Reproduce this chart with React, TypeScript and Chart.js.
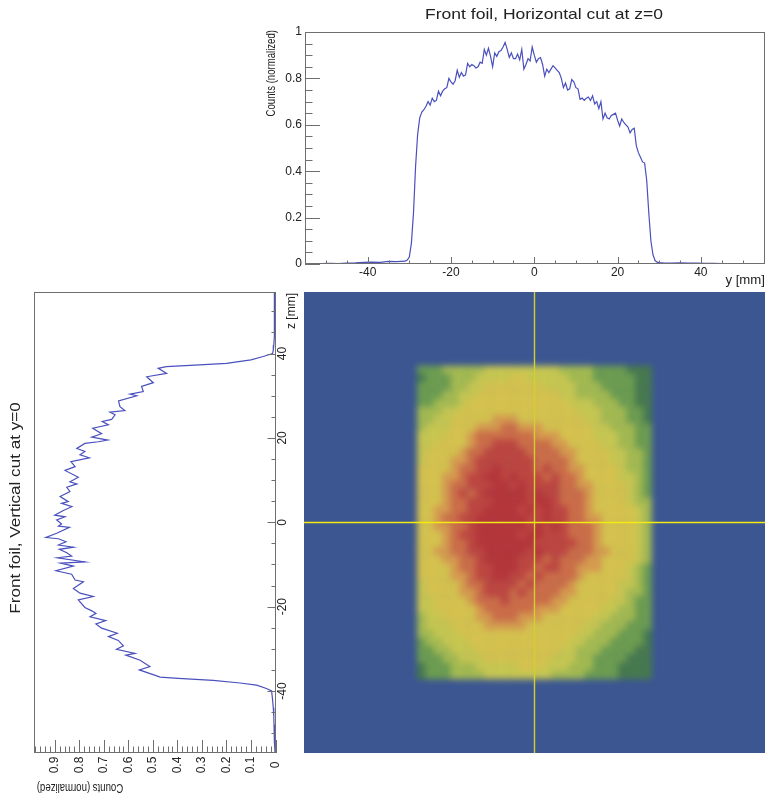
import React, { useEffect, useRef } from "react";
import { Chart, registerables } from "chart.js";

Chart.register(...registerables);

const FONT = "'Liberation Sans', Arial, sans-serif";
const LINE = "#4a50bd";
const AXIS = "#6f6f6f";

// ---- horizontal cut at z=0
const horizLeftTailY = [-55, -53, -51, -49, -47, -45, -43, -41, -39, -37, -35, -33];
const horizLeftTailV = [0.001, 0.002, 0.002, 0.003, 0.002, 0.004, 0.005, 0.007, 0.008, 0.007, 0.011, 0.010];
const horizCoreY = [
  -31, -30.5, -30, -29.5, -29, -28.5, -28, -27.5, -27, -26.5, -26, -25.5, -25, -24.5, -24, -23.5, -23, -22.5, -22, -21.5,
  -21, -20.5, -20, -19.5, -19, -18.5, -18, -17.5, -17, -16.5, -16, -15.5, -15, -14.5, -14, -13.5, -13, -12.5, -12, -11.5,
  -11, -10.5, -10, -9.5, -9, -8.5, -8, -7.5, -7, -6.5, -6, -5.5, -5, -4.5, -4, -3.5, -3, -2.5, -2, -1.5,
  -1, -0.5, 0, 0.5, 1, 1.5, 2, 2.5, 3, 3.5, 4, 4.5, 5, 5.5, 6, 6.5, 7, 7.5, 8, 8.5,
  9, 9.5, 10, 10.5, 11, 11.5, 12, 12.5, 13, 13.5, 14, 14.5, 15, 15.5, 16, 16.5, 17, 17.5, 18, 18.5,
  19, 19.5, 20, 20.5, 21, 21.5, 22, 22.5, 23, 23.5, 24, 24.5, 25, 25.5, 26, 26.5, 27, 27.5, 28, 28.5,
  29, 29.5, 30,
];
const horizCoreV = [
  0.012, 0.017, 0.03, 0.09, 0.22, 0.42, 0.56, 0.63, 0.655, 0.665, 0.68, 0.70, 0.685, 0.715, 0.70, 0.705, 0.745, 0.725, 0.745, 0.755,
  0.76, 0.80, 0.785, 0.775, 0.79, 0.835, 0.805, 0.825, 0.81, 0.815, 0.865, 0.85, 0.86, 0.855, 0.845, 0.85, 0.87, 0.865, 0.925, 0.90,
  0.93, 0.895, 0.85, 0.91, 0.895, 0.915, 0.92, 0.935, 0.955, 0.925, 0.89, 0.91, 0.885, 0.885, 0.905, 0.88, 0.925, 0.84, 0.86, 0.885,
  0.875, 0.935, 0.90, 0.87, 0.885, 0.89, 0.86, 0.81, 0.84, 0.825, 0.84, 0.855, 0.845, 0.835, 0.825, 0.80, 0.76, 0.78, 0.75, 0.755,
  0.795, 0.785, 0.76, 0.755, 0.71, 0.715, 0.705, 0.715, 0.72, 0.705, 0.725, 0.69, 0.70, 0.67, 0.70, 0.625, 0.65, 0.63, 0.625, 0.64,
  0.645, 0.65, 0.62, 0.595, 0.625, 0.61, 0.60, 0.59, 0.565, 0.58, 0.585, 0.51, 0.48, 0.46, 0.44, 0.435, 0.36, 0.22, 0.10, 0.04,
  0.015, 0.008, 0.006,
];
const horizRightTailY = [31, 33, 35, 37, 39, 41, 43, 45, 47, 49, 51, 53, 55];
const horizRightTailV = [0.005, 0.004, 0.005, 0.004, 0.004, 0.003, 0.003, 0.002, 0.002, 0.002, 0.001, 0.002, 0.001];

// ---- vertical cut at y=0
const vertZ = [
  54.5, 52, 50, 48, 46, 44, 42, 40.8, 40, 39.3, 38.5, 37.7, 37.3, 36.9, 36.5, 35.3, 34.5, 33.1, 32.2, 31,
  30.4, 30, 28.8, 27.4, 26.5, 26.1, 25.5, 24.4, 23.9, 23.1, 22.3, 21, 20.2, 19.5, 19.1, 18.7, 17.5, 16.8, 16, 15.3,
  14.4, 13.2, 12.3, 10.7, 9.6, 9.1, 8.3, 7.3, 6.1, 4.9, 4.5, 3.7, 2.8, 1.7, 1.3, 0.55, -0.4, -0.9, -1.2, -2.6,
  -3.6, -3.9, -4.6, -5.4, -5.9, -6.4, -7.2, -8, -8.4, -9.4, -9.7, -10.4, -11.5, -12.3, -13.7, -14.1, -15.7, -16.8, -17.6, -18.4,
  -20.2, -21, -21.6, -22.4, -23.3, -24.1, -25.1, -26.3, -27.1, -28, -29.3, -30.1, -31.1, -31.5, -32.7, -34.2, -35, -36, -36.7, -37,
  -37.5, -38.1, -38.6, -39.4, -40, -42, -44, -46, -48, -50, -52, -54.5,
];
const vertV = [
  0.003, 0.004, 0.003, 0.005, 0.006, 0.005, 0.007, 0.009, 0.012, 0.05, 0.10, 0.20, 0.31, 0.445, 0.478, 0.444, 0.525, 0.498, 0.546, 0.539,
  0.593, 0.566, 0.64, 0.634, 0.614, 0.675, 0.654, 0.668, 0.706, 0.681, 0.745, 0.709, 0.749, 0.684, 0.722, 0.777, 0.81, 0.777, 0.797, 0.759,
  0.834, 0.817, 0.858, 0.804, 0.838, 0.81, 0.851, 0.838, 0.878, 0.845, 0.872, 0.83, 0.865, 0.90, 0.858, 0.892, 0.872, 0.885, 0.84, 0.892,
  0.936, 0.885, 0.854, 0.885, 0.824, 0.881, 0.851, 0.831, 0.889, 0.777, 0.876, 0.824, 0.895, 0.831, 0.817, 0.783, 0.824, 0.797, 0.743, 0.804,
  0.777, 0.749, 0.732, 0.756, 0.692, 0.732, 0.709, 0.645, 0.681, 0.641, 0.62, 0.648, 0.573, 0.61, 0.552, 0.512, 0.555, 0.505, 0.47, 0.396,
  0.254, 0.145, 0.077, 0.037, 0.016, 0.012, 0.009, 0.007, 0.006, 0.005, 0.004, 0.002,
];

// ---- ticks
const topXMajor = [-40, -20, 0, 20, 40];
const topXMinor = [-50, -45, -35, -30, -25, -15, -10, -5, 5, 10, 15, 25, 30, 35, 45, 50];
const topYMajor = [0, 0.2, 0.4, 0.6, 0.8, 1];
const topYMinor = [0.05, 0.1, 0.15, 0.25, 0.3, 0.35, 0.45, 0.5, 0.55, 0.65, 0.7, 0.75, 0.85, 0.9, 0.95];
const leftVMajor = [0, 0.1, 0.2, 0.3, 0.4, 0.5, 0.6, 0.7, 0.8, 0.9];
const leftVMinor = [
  0.02, 0.04, 0.06, 0.08, 0.12, 0.14, 0.16, 0.18, 0.22, 0.24, 0.26, 0.28, 0.32, 0.34, 0.36, 0.38, 0.42, 0.44, 0.46, 0.48,
  0.52, 0.54, 0.56, 0.58, 0.62, 0.64, 0.66, 0.68, 0.72, 0.74, 0.76, 0.78, 0.82, 0.84, 0.86, 0.88, 0.92, 0.94, 0.96, 0.98,
];
const leftZMajor = [-40, -20, 0, 20, 40];
const leftZMinor = [-50, -45, -35, -30, -25, -15, -10, -5, 5, 10, 15, 25, 30, 35, 45, 50];

// ---- heat map: one digit per cell, colour level 1..9
const heatY = [-27, -25, -23, -21, -19, -17, -15, -13, -11, -9, -7, -5, -3, -1, 1, 3, 5, 7, 9, 11, 13, 15, 17, 19, 21, 23, 25, 27];
const heatZ = [
  36.4, 34.5, 32.5, 30.5, 28.5, 26.6, 24.6, 22.6, 20.7, 18.7, 16.7, 14.8, 12.8, 10.8, 8.9, 6.9, 4.9, 3, 1,
  -1, -3, -4.9, -6.9, -8.9, -10.8, -12.8, -14.8, -16.7, -18.7, -20.7, -22.6, -24.6, -26.6, -28.5, -30.5, -32.5, -34.5, -36.4,
];
const heatRows = [
  "2223333344444444433332222111",
  "1222333444455444443332222211",
  "2222334455555554444333222211",
  "2223344555555555544333322211",
  "2233345555555555554443332211",
  "3334455555555555555444333221",
  "3344555556665555555544333221",
  "3444555666776665555554433322",
  "4445556777777766655554443322",
  "4455556778887777665555443322",
  "4555567788888777766555544332",
  "4555667888888877776555544332",
  "5555677889888878776655554332",
  "5556678899898887877655554432",
  "5556778889989888877665555432",
  "5556787899999898877765555432",
  "5556778889999899877765555433",
  "5566778899998989887765555543",
  "5567788999999889887766555543",
  "5566778999999898987776555543",
  "5556788999998998887776555543",
  "5556778999999988888776555543",
  "5566778899999898887776655543",
  "5556677899998887877766555543",
  "5555677889998878877666555432",
  "5555667889988787777655555432",
  "4555567788887877776555554432",
  "4555566788878777766555554332",
  "4455556777877777665555544322",
  "4455555677777766655555443322",
  "3445555667776665555554433322",
  "3444555566666555555544333222",
  "3344455555555555555443332221",
  "2334445555555555554433322221",
  "2233444555555555544333222211",
  "2223344455555555444332222111",
  "1222333444445554443332221111",
  "1222333344444444333322221111",
];
const heatPalette = ["#3c5692", "#47794f", "#6c9c50", "#a3b951", "#c6c651", "#d5c24e", "#d69a4e", "#cb6d48", "#bd4640", "#b5363a"];
const hairY = [-55, 55];
const hairZero = [0, 0];

type Fn = (c: any) => void;

function frame(c: any) {
  const { ctx, chartArea: a } = c;
  ctx.save();
  ctx.strokeStyle = AXIS;
  ctx.lineWidth = 1;
  ctx.strokeRect(Math.round(a.left) + 0.5, Math.round(a.top) + 0.5, Math.round(a.right - a.left) - 1, Math.round(a.bottom - a.top) - 1);
  ctx.restore();
}

function ticksAlong(c: any, axis: "x" | "y", edge: number, dir: number, values: number[], len: number) {
  const { ctx } = c;
  const scale = c.scales[axis];
  ctx.save();
  ctx.strokeStyle = AXIS;
  ctx.lineWidth = 1;
  ctx.beginPath();
  values.forEach((v) => {
    const p = Math.round(scale.getPixelForValue(v)) + 0.5;
    if (axis === "x") {
      ctx.moveTo(p, edge);
      ctx.lineTo(p, edge + dir * len);
    } else {
      ctx.moveTo(edge, p);
      ctx.lineTo(edge + dir * len, p);
    }
  });
  ctx.stroke();
  ctx.restore();
}

function drawText(ctx: any, text: string, x: number, y: number, deg: number, font: string, align: string, stretch = 1) {
  ctx.save();
  ctx.translate(x, y);
  ctx.rotate((deg * Math.PI) / 180);
  ctx.scale(stretch, 1);
  ctx.font = font;
  ctx.fillStyle = "#222";
  ctx.textAlign = align;
  ctx.textBaseline = "middle";
  ctx.fillText(text, 0, 0);
  ctx.restore();
}

const topDecor: Fn = (c) => {
  const a = c.chartArea;
  const { ctx } = c;
  frame(c);
  ticksAlong(c, "x", a.bottom, -1, topXMajor, 7);
  ticksAlong(c, "x", a.bottom, -1, topXMinor, 3.5);
  ticksAlong(c, "y", a.left, 1, topYMajor, 15);
  ticksAlong(c, "y", a.left, 1, topYMinor, 7.5);
  drawText(ctx, "Front foil, Horizontal cut at z=0", 284, 15, 0, `15px ${FONT}`, "center", 1.167);
  drawText(ctx, "Counts (normalized)", 12, 30, -90, `12px ${FONT}`, "right", 0.8);
  drawText(ctx, "y [mm]", a.right, 281, 0, `12px ${FONT}`, "right", 1.1);
};

const leftDecor: Fn = (c) => {
  const a = c.chartArea;
  const { ctx } = c;
  frame(c);
  ticksAlong(c, "x", a.bottom, -1, leftVMajor, 13);
  ticksAlong(c, "x", a.bottom, -1, leftVMinor, 6.5);
  ticksAlong(c, "y", a.right, -1, leftZMajor, 8);
  ticksAlong(c, "y", a.right, -1, leftZMinor, 4);
  const tickFont = `12px ${FONT}`;
  leftVMajor.forEach((v) => {
    drawText(ctx, String(v), c.scales.x.getPixelForValue(v), a.bottom + 12, -90, tickFont, "center");
  });
  leftZMajor.forEach((z) => {
    drawText(ctx, String(z), a.right + 7, c.scales.y.getPixelForValue(z), -90, tickFont, "center");
  });
  drawText(ctx, "z [mm]", a.right + 16, a.top + 1, -90, tickFont, "right");
  drawText(ctx, "Counts (normalized)", 80, 502, 180, tickFont, "center", 0.8);
  drawText(ctx, "Front foil, Vertical cut at y=0", 16, 223, -90, `15px ${FONT}`, "center", 1.14);
};

function zip(xs: number[], ys: number[]) {
  return xs.map((x, i) => ({ x, y: ys[i] }));
}

function decorPlugin(fn: Fn) {
  return { id: "decor", afterDatasetsDraw: fn };
}

export default function App() {
  const topRef = useRef<HTMLCanvasElement>(null);
  const leftRef = useRef<HTMLCanvasElement>(null);
  const heatRef = useRef<HTMLCanvasElement>(null);
  const hairRef = useRef<HTMLCanvasElement>(null);

  useEffect(() => {
    const base = { responsive: false, animation: false as const, events: [] as string[] };
    const horizontalCut = [
      ...zip(horizLeftTailY, horizLeftTailV),
      ...zip(horizCoreY, horizCoreV),
      ...zip(horizRightTailY, horizRightTailV),
    ];

    const top = new Chart(topRef.current!, {
      type: "scatter",
      data: {
        datasets: [{ data: horizontalCut, showLine: true, borderColor: LINE, borderWidth: 1.2, pointRadius: 0 }],
      },
      plugins: [decorPlugin(topDecor)],
      options: {
        ...base,
        layout: { padding: { left: 0, right: 13, top: 32, bottom: 0 } },
        plugins: { legend: { display: false }, tooltip: { enabled: false } },
        scales: {
          x: {
            type: "linear",
            min: -55.05,
            max: 55.4,
            afterFit: (s: any) => { s.height = 27; },
            afterBuildTicks: (s: any) => { s.ticks = topXMajor.map((value) => ({ value })); },
            grid: { display: false, drawTicks: false },
            border: { display: false },
            ticks: { color: "#222", maxRotation: 0, autoSkip: false, padding: 1, font: { family: FONT, size: 12 }, callback: (v: any) => String(v) },
          },
          y: {
            min: 0,
            max: 1,
            afterFit: (s: any) => { s.width = 45; },
            afterBuildTicks: (s: any) => { s.ticks = topYMajor.map((value) => ({ value })); },
            grid: { display: false, drawTicks: false },
            border: { display: false },
            ticks: { color: "#222", padding: 3, font: { family: FONT, size: 12 }, callback: (v: any) => String(v) },
          },
        },
      },
    } as any);

    const left = new Chart(leftRef.current!, {
      type: "scatter",
      data: {
        datasets: [{ data: zip(vertV, vertZ), showLine: true, borderColor: LINE, borderWidth: 1.2, pointRadius: 0 }],
      },
      plugins: [decorPlugin(leftDecor)],
      options: {
        ...base,
        layout: { padding: { left: 34, right: 24.5, top: 7, bottom: 49 } },
        plugins: { legend: { display: false }, tooltip: { enabled: false } },
        scales: {
          x: { type: "linear", display: false, reverse: true, min: 0, max: 0.9845 },
          y: { type: "linear", display: false, min: -54.7, max: 54.6 },
        },
      },
    } as any);

    const cells: { x: number; y: number; level: number }[] = [];
    heatRows.forEach((row, r) => {
      heatY.forEach((y, col) => {
        cells.push({ x: y, y: heatZ[r], level: Number(row[col]) });
      });
    });
    const cellRadius = (ctx: any) => {
      const s = ctx.chart.scales.x;
      return ((s.getPixelForValue(2) - s.getPixelForValue(0)) / Math.SQRT2) * 1.03;
    };
    const heatScales = {
      x: { type: "linear", display: false, min: -55, max: 55 },
      y: { type: "linear", display: false, min: -55, max: 55 },
    };

    const heat = new Chart(heatRef.current!, {
      type: "scatter",
      data: {
        datasets: [
          {
            data: cells,
            pointStyle: "rect",
            pointRadius: cellRadius,
            pointBorderWidth: 0,
            borderWidth: 0,
            backgroundColor: (ctx: any) => heatPalette[ctx.raw ? ctx.raw.level : 0],
          },
        ],
      },
      options: { ...base, plugins: { legend: { display: false }, tooltip: { enabled: false } }, scales: heatScales },
    } as any);

    const hair = new Chart(hairRef.current!, {
      type: "scatter",
      data: {
        datasets: [
          { data: zip(hairY, hairZero), showLine: true, borderColor: "#f2ea10", borderWidth: 1.6, pointRadius: 0 },
          { data: zip(hairZero, hairY), showLine: true, borderColor: "#d4cf30", borderWidth: 1.4, pointRadius: 0 },
        ],
      },
      options: { ...base, plugins: { legend: { display: false }, tooltip: { enabled: false } }, scales: heatScales },
    } as any);

    return () => {
      top.destroy();
      left.destroy();
      heat.destroy();
      hair.destroy();
    };
  }, []);

  return (
    <div style={{ position: "absolute", left: 0, top: 0, width: 778, height: 802, overflow: "hidden", background: "#fff" }}>
      <canvas ref={topRef} width={518} height={291} style={{ position: "absolute", left: 260, top: 0, width: 518, height: 291 }} />
      <canvas ref={leftRef} width={300} height={517} style={{ position: "absolute", left: 0, top: 285, width: 300, height: 517 }} />
      <div style={{ position: "absolute", left: 304, top: 292, width: 461, height: 461, overflow: "hidden", background: heatPalette[0] }}>
        <canvas ref={heatRef} width={461} height={461} style={{ position: "absolute", left: 0, top: 0, width: 461, height: 461, filter: "blur(3.2px)" }} />
        <canvas ref={hairRef} width={461} height={461} style={{ position: "absolute", left: 0, top: 0, width: 461, height: 461 }} />
      </div>
    </div>
  );
}
